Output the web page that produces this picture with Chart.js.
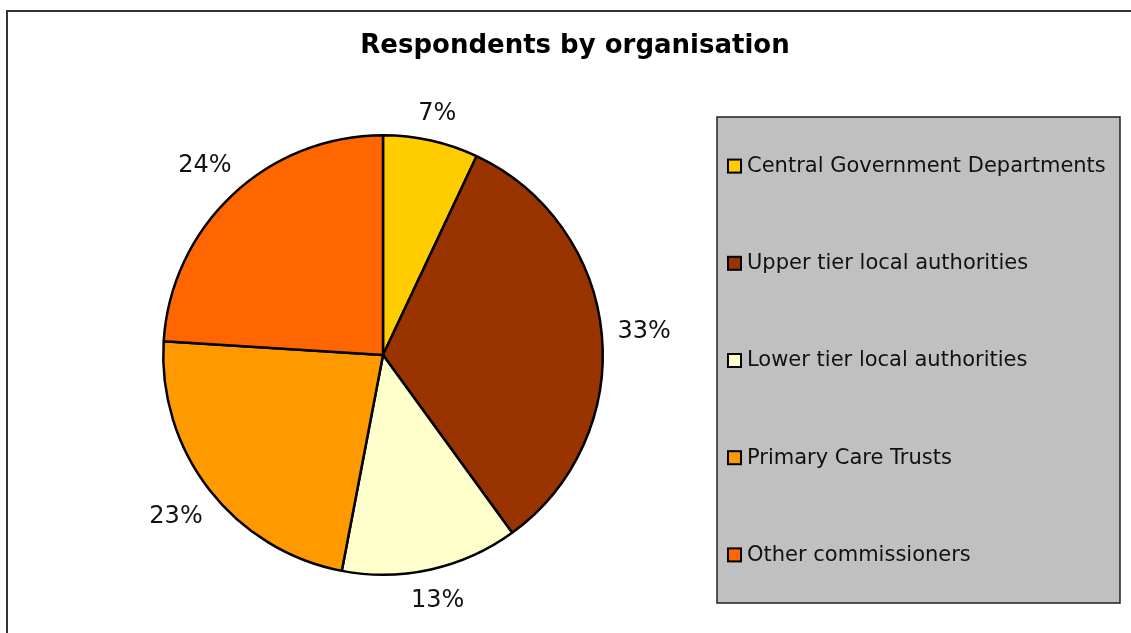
<!DOCTYPE html>
<html>
<head>
<meta charset="utf-8">
<title>Respondents by organisation</title>
<script src="https://cdn.jsdelivr.net/npm/chart.js@4.4.1/dist/chart.umd.min.js"></script>
<style>
    html, body { margin: 0; padding: 0; background: #fff; }
    #wrap { width: 1131px; height: 633px; position: relative; }
</style>
</head>
<body>
<div id="wrap"><canvas id="orgPie"></canvas></div>
<script>
const chartTitle = 'Respondents by organisation';
const categories = [
    'Central Government Departments',
    'Upper tier local authorities',
    'Lower tier local authorities',
    'Primary Care Trusts',
    'Other commissioners'
];
const shares = [7, 33, 13, 23, 24];
const sliceColors = ['#FFCC00', '#993300', '#FFFFCC', '#FF9900', '#FF6600'];

const FONT = '"DejaVu Sans", Verdana, sans-serif';

// Frame, title and the grey legend panel on the right
const decorPlugin = {
    id: 'decor',
    beforeDraw(chart) {
        const ctx = chart.ctx;
        ctx.save();
        ctx.fillStyle = '#fff';
        ctx.fillRect(0, 0, chart.width, chart.height);
        ctx.strokeStyle = '#333';
        ctx.lineWidth = 2;
        ctx.strokeRect(7, 11, chart.width + 20, chart.height + 20);

        ctx.fillStyle = '#000';
        ctx.font = 'bold 26px ' + FONT;
        ctx.textAlign = 'center';
        ctx.textBaseline = 'middle';
        ctx.fillText(chartTitle, 575, 46);
        ctx.restore();
    },
    afterDraw(chart) {
        const ctx = chart.ctx;
        const box = { x: 717, y: 117, w: 403, h: 486 };
        ctx.save();
        ctx.fillStyle = '#C0C0C0';
        ctx.fillRect(box.x, box.y, box.w, box.h);
        ctx.strokeStyle = '#222';
        ctx.lineWidth = 1.5;
        ctx.strokeRect(box.x, box.y, box.w, box.h);

        const step = box.h / categories.length;
        ctx.font = '21px ' + FONT;
        ctx.textAlign = 'left';
        ctx.textBaseline = 'middle';
        categories.forEach((name, i) => {
            const cy = box.y + step * (i + 0.5) + 1;
            ctx.fillStyle = sliceColors[i];
            ctx.fillRect(728, cy - 7, 13, 13);
            ctx.strokeStyle = '#000';
            ctx.lineWidth = 2;
            ctx.strokeRect(728, cy - 7, 13, 13);
            ctx.fillStyle = '#111';
            ctx.fillText(name, 747, cy);
        });
        ctx.restore();
    }
};

// Percentage labels placed just outside each slice
const outsideLabels = {
    id: 'outsideLabels',
    afterDatasetsDraw(chart) {
        const ctx = chart.ctx;
        const meta = chart.getDatasetMeta(0);
        ctx.save();
        ctx.font = '24px ' + FONT;
        ctx.fillStyle = '#111';
        ctx.textAlign = 'center';
        ctx.textBaseline = 'middle';
        meta.data.forEach((arc, i) => {
            const { x, y, startAngle, endAngle, outerRadius } = arc.getProps(['x', 'y', 'startAngle', 'endAngle', 'outerRadius'], true);
            const mid = (startAngle + endAngle) / 2;
            const text = shares[i] + '%';
            const w = ctx.measureText(text).width;
            const h = 20;
            const ext = Math.abs(Math.cos(mid)) * w / 2 + Math.abs(Math.sin(mid)) * h / 2;
            const d = outerRadius + 15 + ext;
            ctx.fillText(text, x + Math.cos(mid) * d, y + Math.sin(mid) * d + 1);
        });
        ctx.restore();
    }
};

new Chart(document.getElementById('orgPie'), {
    type: 'pie',
    data: {
        labels: categories,
        datasets: [{
            data: shares,
            backgroundColor: sliceColors,
            borderColor: '#000',
            borderWidth: 2.5
        }]
    },
    options: {
        responsive: true,
        maintainAspectRatio: false,
        animation: false,
        layout: { padding: { left: 162, right: 527, top: 134, bottom: 57 } },
        plugins: {
            legend: { display: false },
            title: { display: false },
            tooltip: { enabled: false }
        }
    },
    plugins: [decorPlugin, outsideLabels]
});
</script>
</body>
</html>
